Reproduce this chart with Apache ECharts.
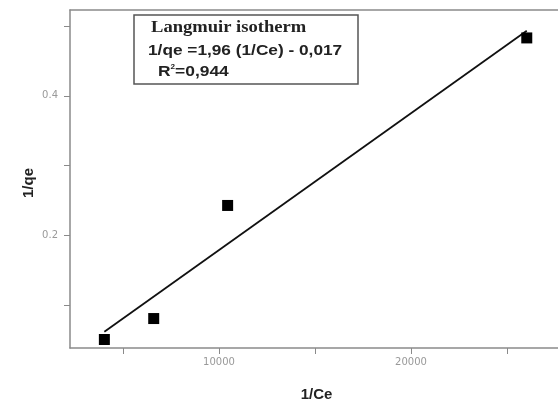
<!DOCTYPE html>
<html>
<head>
<meta charset="utf-8">
<script src="https://cdn.jsdelivr.net/npm/echarts@6/dist/echarts.min.js"></script>
<style>
  html, body { margin: 0; padding: 0; background: #fff; }
  #chart { width: 558px; height: 403px; }
</style>
</head>
<body>
<div id="chart"></div>
<script>
// Measured points: 1/Ce vs 1/qe
const invCe = [4030, 6600, 10450, 26030];
const invQe = [0.051, 0.081, 0.243, 0.483];

// Linear fit stated in the box: 1/qe = 1.96e-5 * (1/Ce) - 0.017
const fitSlope = 1.96e-5;
const fitIntercept = -0.017;
const fitX = [invCe[0], invCe[invCe.length - 1]];

// Axis ticks and labelled values
const xTicks = [5000, 10000, 15000, 20000, 25000];
const xLabels = [10000, 20000];
const yTicks = [0.1, 0.2, 0.3, 0.4, 0.5];
const yLabels = [0.2, 0.4];

const points = invCe.map((x, i) => [x, invQe[i]]);
const fitLine = fitX.map(x => [x, fitSlope * x + fitIntercept]);

const chart = echarts.init(document.getElementById('chart'), null, { renderer: 'canvas' });

const axisGray = '#8a8a8a';
const xMin = 2240, xMax = 27917;

chart.setOption({
  animation: false,
  backgroundColor: '#ffffff',
  grid: { left: 70, top: 10, right: -5, bottom: 55, show: false, containLabel: false, outerBoundsMode: 'none' },
  xAxis: [
    {
      type: 'value',
      min: xMin, max: xMax,
      name: '1/Ce',
      nameLocation: 'middle',
      nameGap: 39,
      nameMoveOverlap: false,
      nameTextStyle: { fontFamily: 'Liberation Sans, Arial', fontWeight: 'bold', fontSize: 15, color: '#222' },
      splitLine: { show: false },
      axisLine: { show: true, lineStyle: { color: axisGray, width: 1.5 } },
      axisTick: { show: true, inside: false, length: 6, customValues: xTicks, lineStyle: { color: axisGray } },
      axisLabel: { customValues: xLabels, color: '#999', fontSize: 10, fontFamily: 'DejaVu Sans', margin: 9,
        formatter: v => String(v) }
    },
    {
      // frame line along the top of the plot
      type: 'value', position: 'top',
      min: xMin, max: xMax,
      splitLine: { show: false },
      axisLine: { show: true, lineStyle: { color: axisGray, width: 1.5 } },
      axisTick: { show: false },
      axisLabel: { show: false }
    }
  ],
  yAxis: {
    type: 'value',
    min: 0.0388, max: 0.523,
    name: '1/qe',
    nameLocation: 'middle',
    nameGap: 34,
    nameMoveOverlap: false,
    nameTextStyle: { fontFamily: 'Liberation Sans, Arial', fontWeight: 'bold', fontSize: 15, color: '#222', padding: [0, 8, 0, 0] },
    splitLine: { show: false },
    axisLine: { show: true, lineStyle: { color: axisGray, width: 1.5 } },
    axisTick: { show: true, inside: false, length: 6, customValues: yTicks, lineStyle: { color: axisGray } },
    axisLabel: { customValues: yLabels, color: '#999', fontSize: 10, fontFamily: 'DejaVu Sans', margin: 12,
      formatter: v => v.toFixed(1) }
  },
  series: [
    {
      type: 'line',
      data: fitLine,
      symbol: 'none',
      lineStyle: { color: '#111', width: 1.8 },
      z: 2
    },
    {
      type: 'scatter',
      data: points,
      symbol: 'rect',
      symbolSize: 11,
      itemStyle: { color: '#000', opacity: 1 },
      z: 3
    }
  ],
  graphic: [
    {
      type: 'rect',
      shape: { x: 134, y: 15, width: 224, height: 69 },
      style: { fill: '#fff', stroke: '#555', lineWidth: 1.5 },
      z: 10
    },
    {
      type: 'text', x: 151, y: 20, z: 11, scaleX: 1.16,
      style: { text: 'Langmuir isotherm', font: 'bold 16px "Liberation Serif", "Times New Roman", serif', fill: '#222' }
    },
    {
      type: 'text', x: 148, y: 43, z: 11, scaleX: 1.15,
      style: { text: '1/qe =1,96 (1/Ce) - 0,017', font: 'bold 15px "Liberation Sans", Arial, sans-serif', fill: '#222' }
    },
    {
      type: 'text', x: 158, y: 64, z: 11, scaleX: 1.16,
      style: {
        text: '{b|R}{s|2}{b|=0,944}',
        rich: {
          b: { font: 'bold 15px "Liberation Sans", Arial, sans-serif', fill: '#222' },
          s: { font: 'bold 7px "Liberation Sans", Arial, sans-serif', fill: '#222', verticalAlign: 'top', padding: [0, 0, 7, 0] }
        }
      }
    }
  ]
});
</script>
</body>
</html>
